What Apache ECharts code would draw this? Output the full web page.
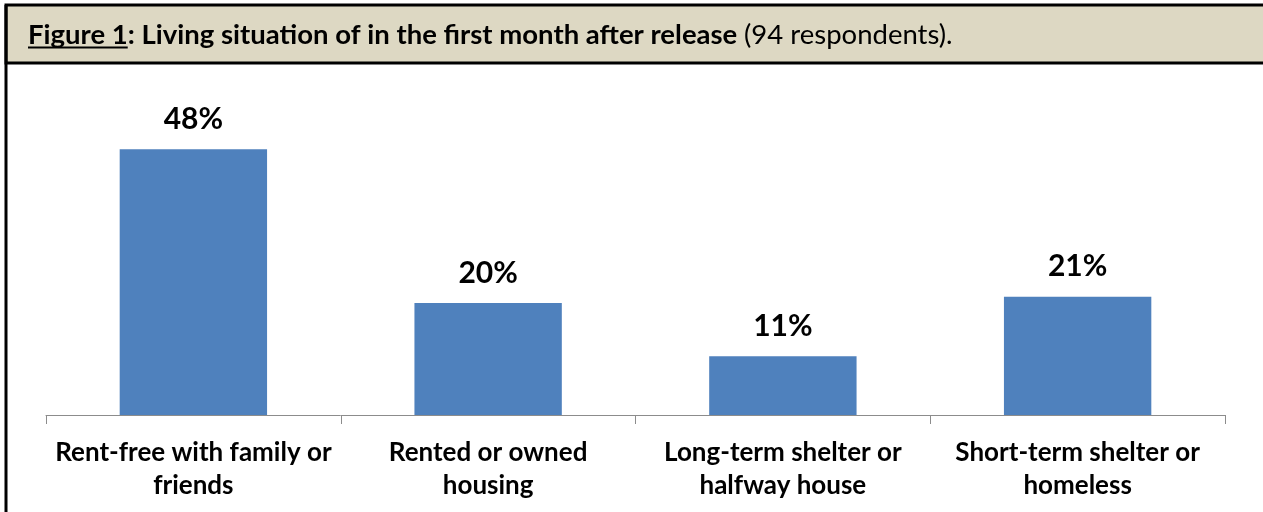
<!DOCTYPE html>
<html>
<head>
<meta charset="utf-8">
<script src="https://cdn.jsdelivr.net/npm/echarts@6/dist/echarts.min.js"></script>
<style>
  html, body { margin: 0; padding: 0; background: #fff; }
  #LivingChart { width: 1263px; height: 512px; }
</style>
</head>
<body>
<div id="LivingChart"></div>
<script>
/* data (94 respondents) */
const categories = [
    'Rent-free with family or\nfriends',
    'Rented or owned\nhousing',
    'Long-term shelter or\nhalfway house',
    'Short-term shelter or\nhomeless'
];
const shares = [47.9, 20.2, 10.6, 21.3];

const titleFont = 'Lato, "Open Sans", sans-serif';

// width of the underlined "Figure 1" part of the heading
measureText = (txt, font) => {
    var ctx = document.createElement('canvas').getContext('2d');
    ctx.font = font;
    return ctx.measureText(txt).width;
}

livingChart = () => {
    var chartDom = document.getElementById('LivingChart');
    var myChart = echarts.init(chartDom);
    var option;
    var figW = measureText('Figure 1', 'bold 27.5px Lato');

    option = {
    backgroundColor: '#fff',
    animation: false,
    graphic: [
        {
        type: 'rect',
        shape: { x: 6, y: 5, width: 1262, height: 58 },
        style: { fill: '#DDD8C3', stroke: '#000', lineWidth: 3 },
        z: 0
        },
        {
        type: 'line',
        shape: { x1: 6, y1: 5, x2: 6, y2: 512 },
        style: { stroke: '#000', lineWidth: 3 }
        },
        {
        type: 'line',
        shape: { x1: 28, y1: 47.5, x2: 28 + figW, y2: 47.5 },
        style: { stroke: '#000', lineWidth: 2 }
        }
    ],
    title: {
        text: '{b|Figure 1: Living situation of in the first month after release }{n|(94 respondents).}',
        left: 28,
        top: 21,
        padding: 0,
        textStyle: {
        rich: {
            b: { fontFamily: titleFont, fontWeight: 'bold', fontSize: 27.5, color: '#000' },
            n: { fontFamily: titleFont, fontWeight: 'normal', fontSize: 27.5, color: '#000' }
        }
        }
    },
    grid: {
        left: 46,
        right: 38,
        top: 137.5,
        bottom: 97,
        containLabel: false
    },
    xAxis: {
        type: 'category',
        data: categories,
        axisLine: { lineStyle: { color: '#8C8C8C', width: 1 } },
        axisTick: { show: true, length: 9, lineStyle: { color: '#8C8C8C' } },
        axisLabel: {
        interval: 0,
        margin: 21,
        color: '#000',
        fontFamily: titleFont,
        fontWeight: 'bold',
        fontSize: 26,
        lineHeight: 33
        }
    },
    yAxis: {
        type: 'value',
        min: 0,
        max: 50,
        show: false,
        splitLine: { show: false }
    },
    series: [
        {
        type: 'bar',
        data: shares,
        barWidth: '50%',
        itemStyle: { color: '#4F81BD' },
        label: {
            show: true,
            position: 'top',
            distance: 15,
            color: '#000',
            fontFamily: titleFont,
            fontWeight: 'bold',
            fontSize: 30,
            formatter: (p) => Math.round(p.value) + '%'
        }
        }
    ]
    };

    option && myChart.setOption(option);
}

livingChart();
</script>
</body>
</html>
